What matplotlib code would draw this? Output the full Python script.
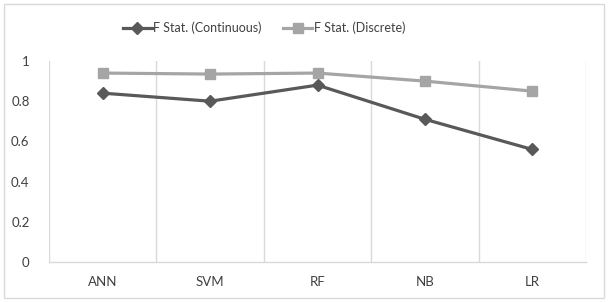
import matplotlib
matplotlib.use("Agg")
import matplotlib.pyplot as plt
from matplotlib.patches import Rectangle
import numpy as np

categories = ["ANN", "SVM", "RF", "NB", "LR"]
continuous = [0.84, 0.80, 0.88, 0.71, 0.56]
discrete = [0.94, 0.935, 0.94, 0.90, 0.85]
series_names = ["F Stat. (Continuous)", "F Stat. (Discrete)"]
yticks = [0, 0.2, 0.4, 0.6, 0.8, 1]
ytick_labels = ["0", "0.2", "0.4", "0.6", "0.8", "1"]

plt.rcParams['font.family'] = ['Lato', 'DejaVu Sans']

fig = plt.figure(figsize=(6.09, 3.02), dpi=100)
fig.patches.append(Rectangle((4/609, 4/302), 600/609, 294/302, transform=fig.transFigure,
                             fill=False, edgecolor="#D9D9D9", linewidth=1.0))
ax = fig.add_axes([49/609, 1-262/302, (586-49)/609, (262-61)/302])

x = np.arange(len(categories))
ax.plot(x, continuous, color="#595959", lw=2.3, marker="D", markersize=6.0,
        label=series_names[0], zorder=3)
ax.plot(x, discrete, color="#A5A5A5", lw=2.3, marker="s", markersize=7.0,
        label=series_names[1], zorder=3)

ax.set_xlim(-0.5, len(categories)-0.5)
ax.set_ylim(0, 1)
ax.set_xticks(x)
ax.set_xticklabels(categories)
ax.set_xticks(np.arange(-0.5, len(categories), 1), minor=True)
ax.grid(True, which="minor", axis="x", color="#D9D9D9", lw=1.0)
ax.set_yticks(yticks)
ax.set_yticklabels(ytick_labels)
ax.tick_params(axis="both", which="both", length=0, colors="#404040", labelsize=9.5)
ax.tick_params(axis="y", pad=14)
ax.tick_params(axis="x", pad=10)
for s in ["top", "right", "left"]:
    ax.spines[s].set_visible(False)
ax.spines["bottom"].set_color("#D9D9D9")
ax.spines["bottom"].set_linewidth(1.0)

fig.legend(loc="center", bbox_to_anchor=(264/609, 1-28/302), ncol=2, frameon=False,
           fontsize=9, handlelength=2.3, columnspacing=1.7, handletextpad=0.15,
           labelcolor="#404040")

fig.savefig("out.png", dpi=100)
